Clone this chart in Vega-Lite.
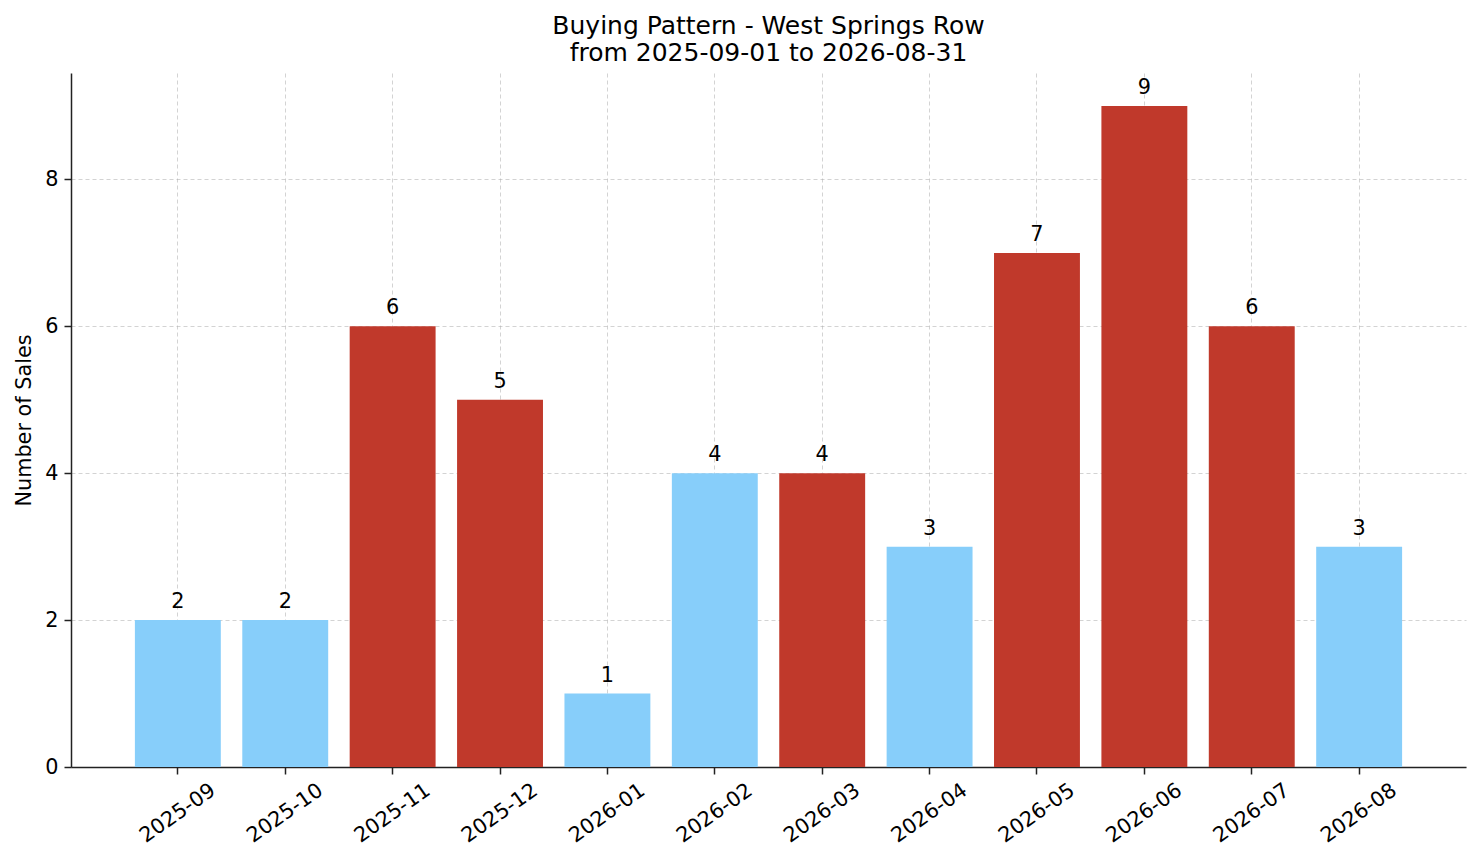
{
  "$schema": "https://vega.github.io/schema/vega-lite/v6.json",
  "width": 1395,
  "height": 694,
  "autosize": {"type": "none"},
  "padding": {"left": 71, "top": 73, "right": 15, "bottom": 96},
  "background": "white",
  "config": {
    "view": {"stroke": null},
    "font": "DejaVu Sans",
    "axis": {
      "labelFont": "DejaVu Sans",
      "titleFont": "DejaVu Sans",
      "labelFontSize": 20.8,
      "titleFontSize": 20.8,
      "titleFontWeight": "normal",
      "labelColor": "black",
      "titleColor": "black",
      "domainColor": "#222",
      "domainWidth": 1.5,
      "tickColor": "#222",
      "tickWidth": 1.5,
      "tickSize": 7,
      "labelPadding": 6,
      "grid": true,
      "gridColor": "#b0b0b0",
      "gridOpacity": 0.7,
      "gridDash": [4, 3],
      "gridWidth": 0.8,
      "zindex": 1
    }
  },
  "title": {
    "text": ["Buying Pattern - West Springs Row", "from 2025-09-01 to 2026-08-31"],
    "font": "DejaVu Sans",
    "fontSize": 25,
    "fontWeight": "normal",
    "color": "black",
    "anchor": "middle",
    "offset": 7,
    "lineHeight": 27
  },
  "data": {
    "values": [
      {"month": "2025-09", "sales": 2, "level": "low"},
      {"month": "2025-10", "sales": 2, "level": "low"},
      {"month": "2025-11", "sales": 6, "level": "high"},
      {"month": "2025-12", "sales": 5, "level": "high"},
      {"month": "2026-01", "sales": 1, "level": "low"},
      {"month": "2026-02", "sales": 4, "level": "low"},
      {"month": "2026-03", "sales": 4, "level": "high"},
      {"month": "2026-04", "sales": 3, "level": "low"},
      {"month": "2026-05", "sales": 7, "level": "high"},
      {"month": "2026-06", "sales": 9, "level": "high"},
      {"month": "2026-07", "sales": 6, "level": "high"},
      {"month": "2026-08", "sales": 3, "level": "low"}
    ]
  },
  "encoding": {
    "x": {
      "field": "month",
      "type": "ordinal",
      "sort": null,
      "title": null,
      "scale": {"paddingInner": 0.2, "paddingOuter": 0.595},
      "axis": {"labelAngle": -35, "labelAlign": "center", "labelBaseline": "middle", "labelPadding": 39}
    },
    "y": {
      "field": "sales",
      "type": "quantitative",
      "title": "Number of Sales",
      "scale": {"domain": [0, 9.45], "nice": false},
      "axis": {"values": [0, 2, 4, 6, 8], "titlePadding": 10}
    }
  },
  "layer": [
    {
      "mark": {"type": "bar"},
      "encoding": {
        "color": {
          "field": "level",
          "type": "nominal",
          "scale": {"domain": ["high", "low"], "range": ["#c0392b", "#87cefa"]},
          "legend": null
        }
      }
    },
    {
      "mark": {"type": "text", "fontSize": 20.8, "baseline": "alphabetic", "dy": -12, "color": "black"},
      "encoding": {"text": {"field": "sales", "type": "quantitative"}}
    }
  ]
}
